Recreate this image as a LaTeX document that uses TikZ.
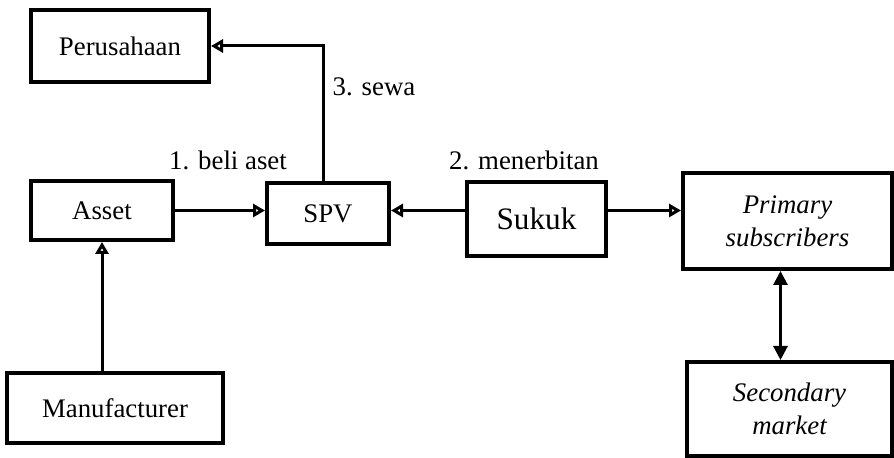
\documentclass[tikz,border=0pt]{standalone}
\usepackage{fontspec}
\setmainfont{Liberation Serif}
\usetikzlibrary{arrows.meta,positioning}

\tikzset{
    box/.style={draw, line width=2pt, inner sep=2pt, font=\fontsize{13.4}{16.5}\selectfont, align=center},
    arr/.style={line width=1.5pt, -{Triangle[open, length=6pt, width=6.5pt]}},
    darr/.style={line width=1.5pt, {Triangle[length=7pt, width=7pt]}-{Triangle[length=7pt, width=7pt]}},
    lbl/.style={font=\fontsize{13.4}{16}\selectfont}
}

\begin{document}
\begin{tikzpicture}[x=0.5pt, y=-0.5pt]
    \useasboundingbox (0, 0) rectangle (894, 458);
    \node[box, minimum width=89pt, minimum height=36pt] (per) at (120, 46) {Perusahaan};
    \node[box, minimum width=71pt, minimum height=29.5pt] (asset) at (102, 210.5) {Asset};
    \node[box, minimum width=61pt, minimum height=30.5pt] (spv) at (328, 213.5) {SPV};
    \node[box, minimum width=69.5pt, minimum height=37pt, font=\fontsize{15.6}{18}\selectfont] (sukuk) at (536.5, 219) {Sukuk};
    \node[box, minimum width=104.5pt, minimum height=48pt] (primary) at (787.5, 221) {\itshape Primary\\\itshape subscribers};
    \node[box, minimum width=102.5pt, minimum height=47pt] (secondary) at (789.5, 409) {\itshape Secondary\\\itshape market};
    \node[box, minimum width=108pt, minimum height=35pt] (manu) at (115, 408) {Manufacturer};
    % labels
    \node[lbl] (beli) at (228, 160) {1. beli aset};
    \node[lbl] (terbit) at (524, 160) {2. menerbitan};
    \node[lbl] (sewa) at (374, 87) {3. sewa};
    % arrows
    \draw[arr] (asset.east) -- (asset.east -| spv.west);
    \draw[arr] (sukuk.west |- asset.east) -- (spv.east |- asset.east);
    \draw[arr] (sukuk.east |- asset.east) -- (primary.west |- asset.east);
    \draw[arr] ([xshift=-2.5pt]spv.north) |- (per.east);
    \draw[arr] (manu.north -| asset) -- (asset.south);
    \draw[darr] ([xshift=-3.5pt]primary.south) -- ([xshift=-3.5pt]primary.south |- secondary.north);
\end{tikzpicture}
\end{document}
